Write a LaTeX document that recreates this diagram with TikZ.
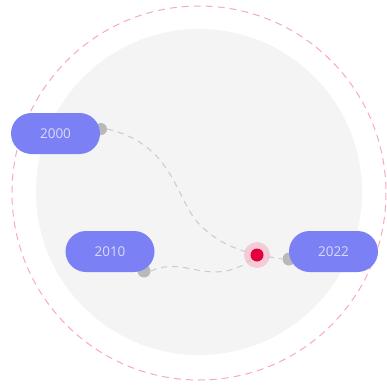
\documentclass[tikz,border=0pt]{standalone}
\usepackage{fontspec}
\setmainfont{Open Sans}
\usetikzlibrary{shapes.misc}
\begin{document}
\begin{tikzpicture}[x=1pt,y=-1pt,
  pill/.style={rounded rectangle, fill=pillblue, text=pilltext, minimum width=89pt, minimum height=41pt, inner sep=0pt, font=\fontsize{13.5}{15}\selectfont},
  knob/.style={circle, fill=knobgray, inner sep=0pt, minimum size=13pt},
  link/.style={draw=linkgray, line width=1pt, dash pattern=on 6pt off 5pt}]
\definecolor{pillblue}{HTML}{7B80F5}
\definecolor{pilltext}{HTML}{D9DAFF}
\definecolor{knobgray}{HTML}{B9B9B9}
\definecolor{linkgray}{HTML}{CBCBCB}
\definecolor{ringpink}{HTML}{F8A9C2}
\definecolor{discgray}{HTML}{F4F4F4}
\definecolor{hotred}{HTML}{E4003F}
\definecolor{halopink}{HTML}{F5CCD6}
\useasboundingbox (0,0) rectangle (387,385);
% background disc and dashed outer ring
\fill[discgray] (199,192) circle[radius=163];
\draw[ringpink, line width=1pt, dash pattern=on 7pt off 5pt] (199,193) circle[radius=187];
% knobs behind the pills
\node[knob, minimum size=12pt] (k1) at (101,129) {};
\node[knob] (k2) at (144,271) {};
\node[knob] (k3) at (289,259) {};
% target marker
\node[circle, fill=halopink, minimum size=26pt, inner sep=0pt] (halo) at (257,255) {};
% connectors
\draw[link] (k1.east) .. controls (175,145) and (175,200) .. (200,225)
  .. controls (220,245) and (240,250) .. (halo.center);
\draw[link] (k2.east) .. controls (180,258) and (200,278) .. (230,270)
  .. controls (245,266) and (250,260) .. (halo.center);
\draw[link] (halo.center) -- (k3.west);
\node[circle, fill=hotred, minimum size=13pt, inner sep=0pt] (dot) at (257,255) {};
% year labels
\node[pill] (y2000) at (55.5,133.5) {2000};
\node[pill] (y2010) at (110,251.5) {2010};
\node[pill] (y2022) at (333.5,251.5) {2022};
\end{tikzpicture}
\end{document}
